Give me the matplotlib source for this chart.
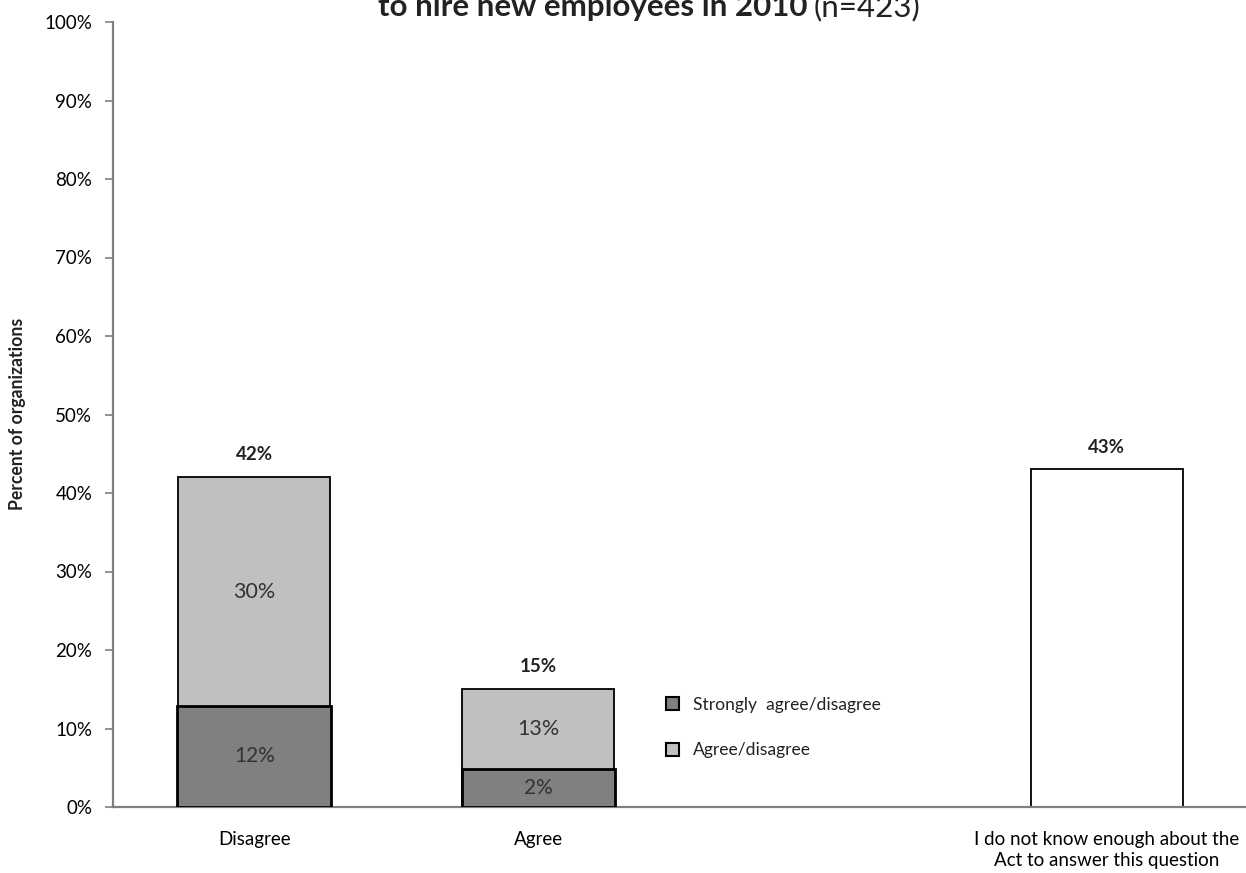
import matplotlib

matplotlib.use("Agg")

import matplotlib.pyplot as plt
import matplotlib.ticker as mticker
from matplotlib.patches import Patch

plt.rcParams.update(
    {
        "font.family": ["Lato", "DejaVu Sans"],
        "font.size": 13.5,
        "text.color": "#222222",
    }
)

# category slots; slot 2 is left empty (legend sits there)
categories = ["Disagree", "Agree", "I do not know enough about the\nAct to answer this question"]
positions = [0, 1, 3]

# heights as drawn in the reference
strong_heights = [12.9, 4.8]
totals = [42, 15, 43]

# printed labels
strong_labels = ["12%", "2%"]
agree_labels = ["30%", "13%"]
total_labels = ["42%", "15%", "43%"]

DARK = "#808080"
LIGHT = "#C0C0C0"

fig = plt.figure(figsize=(12.46, 8.73), dpi=100)
ax = fig.add_axes([113 / 1246, 66 / 873, 1 - 113 / 1246, (807 - 22) / 873])

width = 0.535

# light (agree/disagree) bars run from zero to total, dark drawn over them
ax.bar(positions[:2], totals[:2], width=width, color=LIGHT, edgecolor="black", linewidth=1.3, zorder=2)
ax.bar(positions[:2], strong_heights, width=width + 0.006, color=DARK, edgecolor="black", linewidth=2.0, zorder=3)
ax.bar(positions[2], totals[2], width=width, color="white", edgecolor="black", linewidth=1.3, zorder=2)

for x, h, lab in zip(positions[:2], strong_heights, strong_labels):
    ax.text(x, h / 2, lab, ha="center", va="center", fontsize=15, color="#333333", zorder=4)
for x, lo, hi, lab in zip(positions[:2], strong_heights, totals[:2], agree_labels):
    ax.text(x, (lo + hi) / 2, lab, ha="center", va="center", fontsize=15.5, color="#333333", zorder=4)
for x, h, lab in zip(positions, totals, total_labels):
    ax.annotate(lab, (x, h), xytext=(0, 10), textcoords="offset points",
                ha="center", va="bottom", fontsize=13.5, fontweight="bold")

ax.set_xlim(-0.497, 3.49)
ax.set_ylim(0, 100)
ax.yaxis.set_major_locator(mticker.MultipleLocator(10))
ax.yaxis.set_major_formatter(mticker.FuncFormatter(lambda v, _: f"{v:.0f}%"))
ax.set_xticks(positions)
ax.set_xticklabels(categories, fontsize=13.5, linespacing=1.3)
ax.tick_params(axis="x", length=0, pad=17)
ax.tick_params(axis="y", length=6, width=1.2, color="#808080", labelsize=13.5, pad=9)

for side in ("top", "right"):
    ax.spines[side].set_visible(False)
ax.spines["left"].set_color("#808080")
ax.spines["bottom"].set_color("#808080")
ax.spines["left"].set_linewidth(1.6)
ax.spines["bottom"].set_linewidth(1.6)

fig.text(18 / 1246, 1 - 414 / 873, "Percent of organizations",
         rotation=90, ha="center", va="center", fontsize=12.7, fontweight="bold")

handles = [
    Patch(facecolor=DARK, edgecolor="black", linewidth=1.5, label="Strongly  agree/disagree"),
    Patch(facecolor=LIGHT, edgecolor="black", linewidth=1.5, label="Agree/disagree"),
]
ax.legend(handles=handles, loc="upper left", bbox_to_anchor=(650 / 1246, (873 - 681) / 873),
          bbox_transform=fig.transFigure, frameon=False, handlelength=0.75, handleheight=0.75,
          handletextpad=0.8, labelspacing=1.7, fontsize=12.6)

# title is clipped at the top of the figure in the reference
fig.text(808 / 1246, 1 - 16 / 873, "to hire new employees in 2010", ha="right", va="baseline",
         fontsize=22.5, fontweight="bold")
fig.text(814 / 1246, 1 - 16 / 873, "(n=423)", ha="left", va="baseline", fontsize=22.5)

fig.savefig("out.png", dpi=100)
